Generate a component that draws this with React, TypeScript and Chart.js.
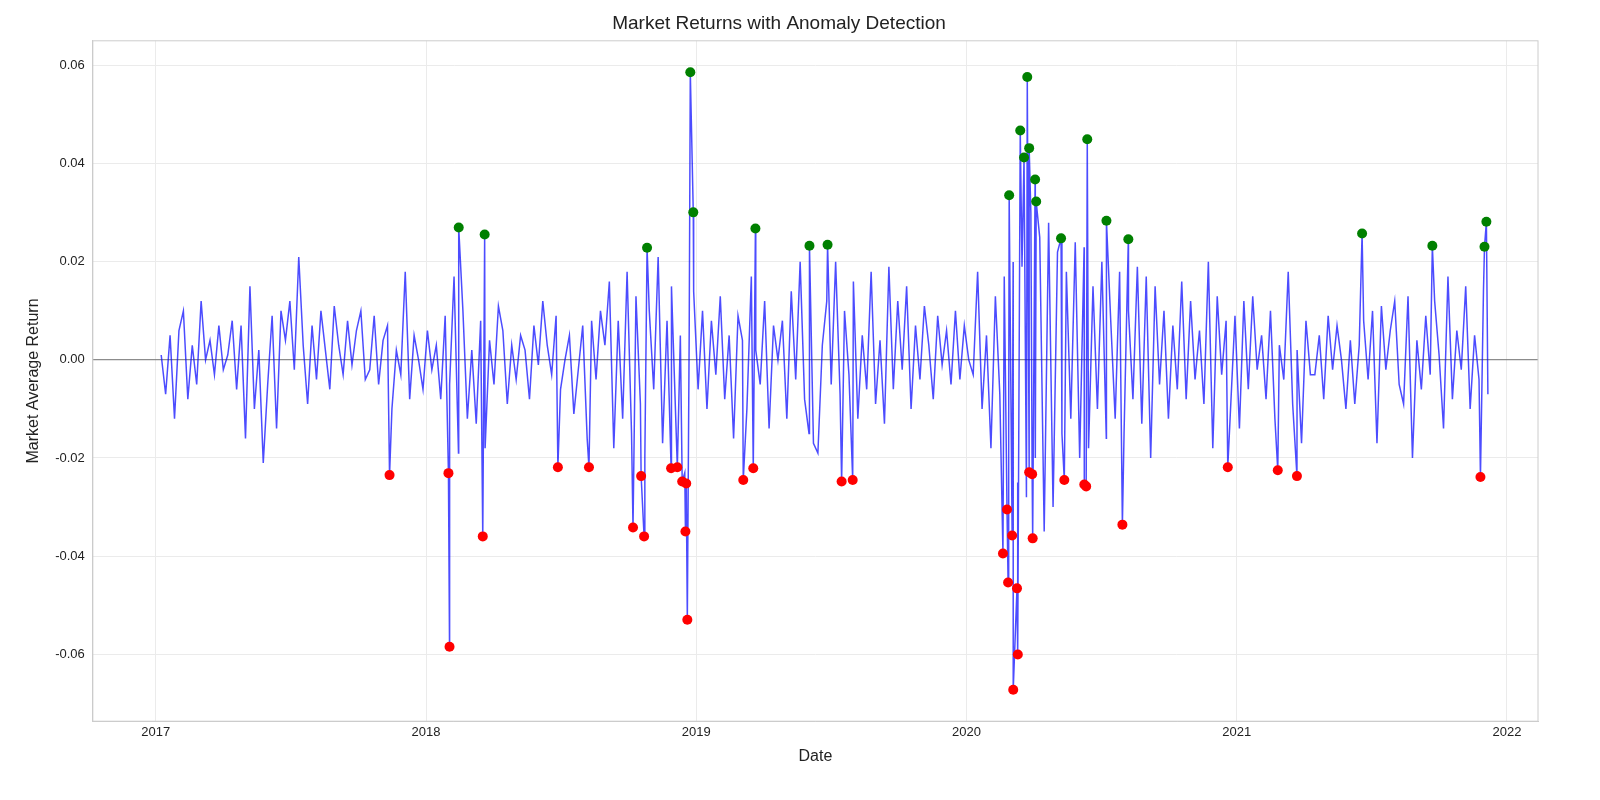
import React, { useEffect, useRef } from 'react';
import { Chart, registerables } from 'chart.js';

Chart.register(...registerables);

// baseline returns in thousandths, roughly 6 days apart from 2017.02 to 2021.93
const baseReturns = [
  1, -7, 5, -12, 6, 10, -8, 3, -5, 12, 0, 4, -3, 7, -2, 1, 8, -6, 7, -16,
  15, -10, 2, -21, -5, 9, -14, 10, 4, 12, -2, 21, 3, -9, 7, -4, 10, 2, -6, 11,
  3, -3, 8, -1, 6, 10, -4, -2, 9, -5, 4, 7, -10, 2, -3, 18, -8, 5, 0, -6,
  6, -2, 3, -8, 9, -5, 17, -19, 10, -12, 2, -13, 8, -18, 4, -5, 11, 6, -9, 3,
  -4, 5, 2, -8, 7, -1, 12, 3, -3, 9, -6, 0, 5, -11, -2, 7, -16, 8, -4, 10,
  3, 16, -18, 8, -12, 18, -15, 13, -9, -20, 10, -6, 21, -17, 8, 15, -13, 5, -23, 6,
  14, -6, 10, -10, 8, -3, 13, -8, 5, -16, 9, 4, -10, 17, 2, -5, 12, -14, 7, 0,
  8, -12, 14, -4, 20, -8, -15, -17, -19, 3, 12, -5, 20, -7, 10, -3, 16, -12, 5, -6,
  18, -9, 4, -13, 19, -6, 12, -2, 15, -10, 7, -4, 11, 3, -8, 9, -1, 6, -5, 10,
  -4, 7, 0, -3, 18, -10, 5, -18, 13, -7, 17, -14, 20, -25, 19, -28, 30, -20, 25, -35,
  28, -30, 22, -15, 18, -12, 24, -20, 23, -18, 15, -10, 20, -16, 8, -12, 18, -15, 10, -8,
  19, -13, 17, -20, 15, -5, 10, -12, 7, -6, 16, -8, 12, -4, 6, -9, 20, -18, 13, -3,
  8, -10, 9, -14, 12, -6, 13, -2, 5, -8, 10, -12, 3, -4, 18, -9, 2, -17, 8, -3,
  -3, 5, -8, 9, -2, 7, 0, -10, 4, -9, 3, 8, -4, 10, -17, 11, -2, 6, 12, -5,
  -9, 13, -20, 4, -6, 9, -3, 12, 1, -14, 17, -8, 6, -2, 15, -10, 5, -4, 14, -7,
];
const baseStart = 2017.02;
const baseStep = 0.01642;

const lowDates = [
  2017.865, 2018.083, 2018.087, 2018.21, 2018.488, 2018.603, 2018.766, 2018.796, 2018.807,
  2018.907, 2018.93, 2018.948, 2018.963, 2018.96, 2018.967, 2019.174, 2019.211, 2019.538,
  2019.579, 2020.135, 2020.15, 2020.154, 2020.169, 2020.173, 2020.187, 2020.19, 2020.232,
  2020.243, 2020.245, 2020.362, 2020.436, 2020.443, 2020.577, 2020.967, 2021.152, 2021.223,
  2021.902,
];
const lowValues = [
  -0.0235, -0.0231, -0.0585, -0.036, -0.0219, -0.0219, -0.0342, -0.0237, -0.036,
  -0.0221, -0.0219, -0.0248, -0.0252, -0.035, -0.053, -0.0245, -0.0221, -0.0248,
  -0.0245, -0.0395, -0.0305, -0.0454, -0.0358, -0.0673, -0.0466, -0.0601, -0.0229,
  -0.0233, -0.0364, -0.0245, -0.0254, -0.0258, -0.0336, -0.0219, -0.0225, -0.0237,
  -0.0239,
];
const highDates = [
  2018.121, 2018.217, 2018.818, 2018.978, 2018.989, 2019.219, 2019.419, 2019.486, 2020.158,
  2020.199, 2020.213, 2020.225, 2020.232, 2020.254, 2020.258, 2020.35, 2020.447, 2020.518,
  2020.599, 2021.464, 2021.724, 2021.917, 2021.924,
];
const highValues = [
  0.027, 0.0256, 0.0229, 0.0587, 0.0301, 0.0268, 0.0233, 0.0235, 0.0336,
  0.0468, 0.0413, 0.0577, 0.0432, 0.0368, 0.0323, 0.0248, 0.045, 0.0284,
  0.0246, 0.0258, 0.0233, 0.0231, 0.0282,
];
const yearTicks = [2017, 2018, 2019, 2020, 2021, 2022];

const FONT = 'Arial, "Liberation Sans", sans-serif';

// box round the plot area, like the matplotlib axes frame
const frame = {
  id: 'frame',
  afterDraw: (chart: any) => {
    const { ctx, chartArea } = chart;
    ctx.save();
    ctx.strokeStyle = '#cccccc';
    ctx.lineWidth = 1;
    ctx.strokeRect(chartArea.left, chartArea.top, chartArea.right - chartArea.left, chartArea.bottom - chartArea.top);
    ctx.restore();
  },
};

const App = () => {
  const canvasRef = useRef<HTMLCanvasElement | null>(null);

  useEffect(() => {
    document.body.style.margin = '0';
    document.body.style.overflow = 'hidden';
    if (!canvasRef.current) return;

    const lows = lowDates.map((x, i) => ({ x, y: lowValues[i] }));
    const highs = highDates.map((x, i) => ({ x, y: highValues[i] }));
    const base = baseReturns.map((v, i) => ({ x: baseStart + i * baseStep, y: v / 1000 }));
    const line = [...base, ...lows, ...highs].sort((a, b) => a.x - b.x);

    const chart = new Chart(canvasRef.current, {
      type: 'scatter',
      data: {
        datasets: [
          {
            type: 'line',
            label: 'returns',
            data: line,
            borderColor: 'rgba(0,0,255,0.7)',
            borderWidth: 1.5,
            pointRadius: 0,
            tension: 0,
            order: 3,
          },
          {
            label: 'low',
            data: lows,
            backgroundColor: '#ff0000',
            borderWidth: 0,
            pointRadius: 5,
            order: 1,
          },
          {
            label: 'high',
            data: highs,
            backgroundColor: '#008000',
            borderWidth: 0,
            pointRadius: 5,
            order: 1,
          },
        ],
      },
      plugins: [frame],
      options: {
        responsive: false,
        animation: false,
        layout: { padding: { left: 20, right: 62, top: 2, bottom: 30 } },
        plugins: {
          legend: { display: false },
          tooltip: { enabled: false },
          title: {
            display: true,
            text: 'Market Returns with Anomaly Detection',
            color: '#222',
            font: { family: FONT, size: 19, weight: 'normal' },
            padding: { top: 10, bottom: 6 },
          },
        },
        scales: {
          x: {
            type: 'linear',
            min: 2016.767,
            max: 2022.115,
            afterBuildTicks: (axis: any) => {
              axis.ticks = yearTicks.map((v) => ({ value: v }));
            },
            ticks: {
              color: '#222',
              font: { family: FONT, size: 13 },
              callback: (v: any) => String(v),
            },
            grid: { color: '#ebebeb', drawTicks: false },
            border: { color: '#cccccc' },
            title: { display: true, text: 'Date', color: '#222', font: { family: FONT, size: 16 } },
          },
          y: {
            min: -0.0737,
            max: 0.0651,
            afterBuildTicks: (axis: any) => {
              axis.ticks = [-0.06, -0.04, -0.02, 0, 0.02, 0.04, 0.06].map((v) => ({ value: v }));
            },
            ticks: {
              color: '#222',
              font: { family: FONT, size: 13 },
              padding: 8,
              callback: (v: any) => Number(v).toFixed(2),
            },
            grid: {
              color: (ctx: any) => (ctx.tick && Math.abs(ctx.tick.value) < 1e-9 ? 'rgba(128,128,128,0.9)' : '#ebebeb'),
              lineWidth: (ctx: any) => (ctx.tick && Math.abs(ctx.tick.value) < 1e-9 ? 1.3 : 1),
              drawTicks: false,
            },
            border: { color: '#cccccc' },
            title: {
              display: true,
              text: 'Market Average Return',
              color: '#222',
              font: { family: FONT, size: 16 },
            },
          },
        },
      },
    });

    return () => {
      chart.destroy();
    };
  }, []);

  return (
    <div style={{ width: 1600, height: 800, overflow: 'hidden' }}>
      <canvas ref={canvasRef} width='1600' height='800' style={{ display: 'block' }} />
    </div>
  );
};

export default App;
